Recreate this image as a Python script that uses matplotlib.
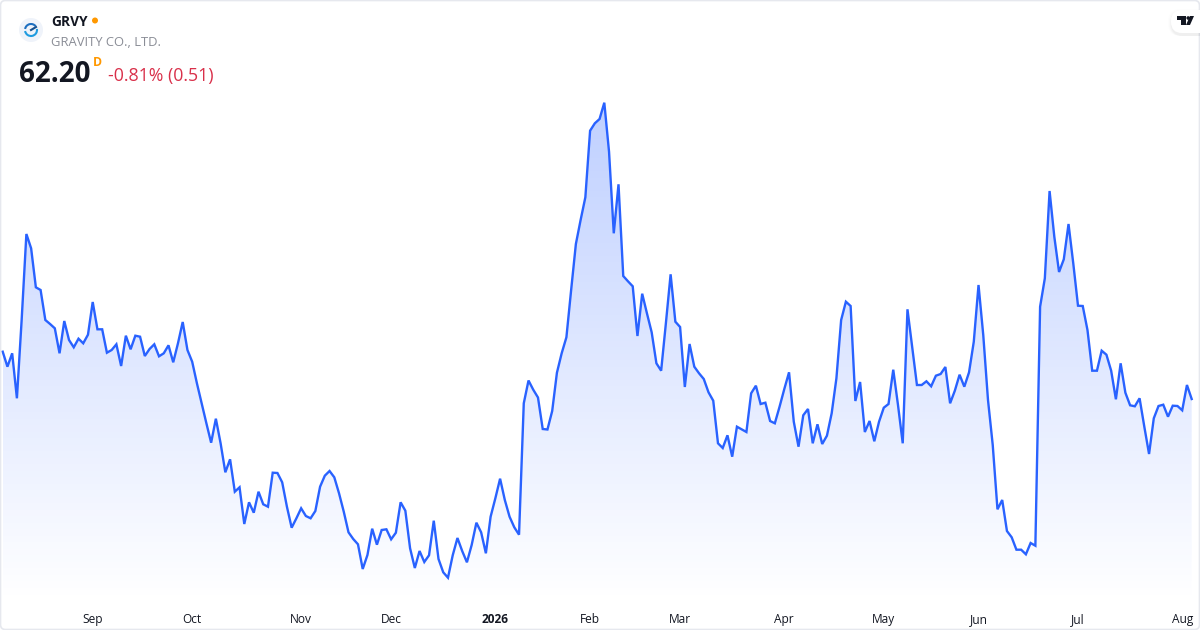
import numpy as np
import matplotlib
matplotlib.use('Agg')
import matplotlib.pyplot as plt
from matplotlib.patches import Circle, Arc, FancyBboxPatch, Polygon
from matplotlib.colors import LinearSegmentedColormap

plt.rcParams['font.family'] = ['Open Sans', 'DejaVu Sans']

# closing prices (no y axis there, so the scale is estimated)
prices = [66.93, 65.43, 66.77, 62.27, 70.10, 78.70, 77.27, 73.37, 73.10, 70.10, 69.70, 69.27,
          66.77, 70.00, 68.10, 67.37, 68.23, 67.77, 68.63, 71.90, 69.17, 69.17, 66.83, 67.10,
          67.67, 65.50, 68.53, 67.17, 68.53, 68.43, 66.50, 67.20, 67.67, 66.47, 66.77, 67.57,
          65.87, 67.77, 69.90, 67.10, 65.93, 63.77, 61.77, 59.77, 57.83, 60.23, 57.77, 54.87,
          56.17, 52.93, 53.37, 49.70, 51.87, 50.83, 52.93, 51.67, 51.43, 54.83, 54.80, 53.87,
          51.43, 49.33, 50.27, 51.27, 50.50, 50.27, 51.00, 53.43, 54.53, 55.00, 54.37, 52.77,
          50.93, 48.87, 48.20, 47.67, 45.20, 46.60, 49.23, 47.63, 49.10, 49.17, 48.17, 48.83,
          51.87, 51.03, 47.27, 45.30, 47.00, 45.90, 46.57, 50.03, 46.20, 44.87, 44.33, 46.57,
          48.30, 47.00, 45.87, 47.60, 49.83, 48.87, 46.77, 50.43, 52.27, 54.23, 52.10, 50.43,
          49.37, 48.63, 61.77, 64.05, 63.13, 62.35, 59.20, 59.15, 61.00, 64.83, 66.77, 68.37,
          73.10, 77.70, 80.10, 82.37, 89.03, 89.77, 90.20, 91.83, 86.93, 78.77, 83.67, 74.50,
          73.97, 73.47, 68.50, 72.73, 70.77, 68.87, 65.77, 65.03, 69.77, 74.67, 69.93, 69.40,
          63.40, 67.70, 65.43, 64.77, 64.20, 62.87, 62.03, 57.77, 57.30, 58.57, 56.43, 59.43,
          59.17, 58.90, 62.77, 63.53, 61.70, 61.83, 60.00, 59.77, 61.43, 63.20, 64.87, 59.93,
          57.43, 60.57, 61.20, 57.77, 59.67, 57.70, 58.53, 60.77, 64.27, 70.10, 71.93, 71.50,
          62.00, 63.90, 58.90, 60.00, 57.97, 59.93, 61.33, 61.70, 65.13, 61.60, 57.77, 71.17,
          67.37, 63.60, 63.60, 63.97, 63.47, 64.53, 64.70, 65.40, 61.77, 63.03, 64.63, 63.43,
          64.87, 67.93, 73.60, 68.60, 62.10, 57.60, 51.17, 52.10, 49.00, 48.37, 47.13, 47.13,
          46.67, 47.80, 47.53, 71.43, 74.27, 83.00, 78.43, 74.90, 76.17, 79.70, 75.77, 71.53,
          71.50, 69.10, 65.03, 65.03, 67.03, 66.63, 65.03, 62.17, 65.77, 62.83, 61.57, 61.47,
          62.27, 59.43, 56.70, 60.27, 61.50, 61.63, 60.43, 61.53, 61.50, 61.07, 63.60, 62.20]
tick_pos = [19, 40, 63, 82, 104, 124, 143, 165, 186, 206, 227, 249]
tick_labels = ['Sep', 'Oct', 'Nov', 'Dec', '2026', 'Feb', 'Mar', 'Apr', 'May', 'Jun', 'Jul', 'Aug']

LINE = '#2962FF'
x = np.arange(len(prices))
y = np.array(prices)

fig = plt.figure(figsize=(12, 6.3), dpi=100, facecolor='white')
ax = fig.add_axes([0, 28 / 630, 1, 602 / 630])
step = 4.737
for s in ax.spines.values():
    s.set_visible(False)
ax.set_yticks([])
ax.set_xticks(tick_pos)
ax.set_xticklabels(tick_labels, fontsize=8.6, color='#131722')
ax.tick_params(axis='x', length=0, pad=8)
ax.get_xticklabels()[4].set_fontweight('bold')

# gradient under the line, clipped to the area
cmap = LinearSegmentedColormap.from_list('g', [(0.16, 0.38, 1.0, 0.30), (0.16, 0.38, 1.0, 0.0)])
grad = np.linspace(0, 1, 256).reshape(-1, 1)
im = ax.imshow(grad, cmap=cmap, aspect='auto', extent=[x[0], x[-1], 41.9, 91.9],
               origin='upper', zorder=1, interpolation='bilinear')
clip = Polygon(np.vstack([[x[0], 41.9], np.column_stack([x, y]), [x[-1], 41.9]]),
               transform=ax.transData, facecolor='none', edgecolor='none')
ax.add_patch(clip)
im.set_clip_path(clip)
ax.set_xlim(-2.7 / step, (1200 - 2.7) / step)
ax.set_ylim(41.9, 102.1)
ax.plot(x, y, color=LINE, lw=1.7, zorder=2, solid_joinstyle='miter')

# header and logos, pixel coordinates
ui = fig.add_axes([0, 0, 1, 1], facecolor='none')
ui.set_xlim(0, 1200)
ui.set_ylim(630, 0)
ui.axis('off')

ui.add_patch(FancyBboxPatch((0.5, 0.5), 1199, 629, boxstyle='round,pad=0,rounding_size=5',
                            fc='none', ec='#E6E8EE', lw=1.2))

ui.add_patch(Circle((31, 30), 12, fc='#EFF3FA', ec='none'))
ui.add_patch(Arc((31, 30), 12, 12, theta1=-10, theta2=170, ec='#1E9BE0', lw=1.5))
ui.add_patch(Arc((31, 30), 12, 12, theta1=190, theta2=320, ec='#1E6FC0', lw=1.5))
ui.plot([31, 36], [30, 27], color='#14508F', lw=1.5)

ui.text(51, 21, 'GRVY', fontsize=9.9, fontweight='bold', color='#131722', va='center_baseline')
ui.add_patch(Circle((95, 20.5), 3, fc='#FF9800', ec='none'))
ui.text(51, 41, 'GRAVITY CO., LTD.', fontsize=9.35, color='#8A8D96', va='center_baseline')
ui.text(19, 71, '62.20', fontsize=20, fontweight='bold', color='#131722', va='center_baseline')
ui.text(93, 61.5, 'D', fontsize=8.8, fontweight='bold', color='#FF9800', va='center_baseline')
ui.text(108, 74.5, '-0.81% (0.51)', fontsize=12.8, color='#D9304A', va='center_baseline')

# tradingview badge
for i, a in enumerate([0.008, 0.012, 0.018, 0.025]):
    ui.add_patch(FancyBboxPatch((1171 - 3 + i, 10 - 1 + i), 40, 27 - i, boxstyle='round,pad=0,rounding_size=12',
                                fc='black', ec='none', alpha=a, clip_on=True))
ui.add_patch(FancyBboxPatch((1171, 10), 40, 23, boxstyle='round,pad=0,rounding_size=11', fc='white', ec='none'))
ui.add_patch(Polygon([(1177, 16), (1186, 16), (1186, 25), (1181, 25), (1181, 19.5), (1177, 19.5)], fc='#131722', ec='none'))
ui.add_patch(Circle((1188.2, 18), 1.8, fc='#131722', ec='none'))
ui.add_patch(Polygon([(1190, 16), (1194, 16), (1190, 25), (1186, 25)], fc='#131722', ec='none'))

fig.savefig('out.png', dpi=100)
